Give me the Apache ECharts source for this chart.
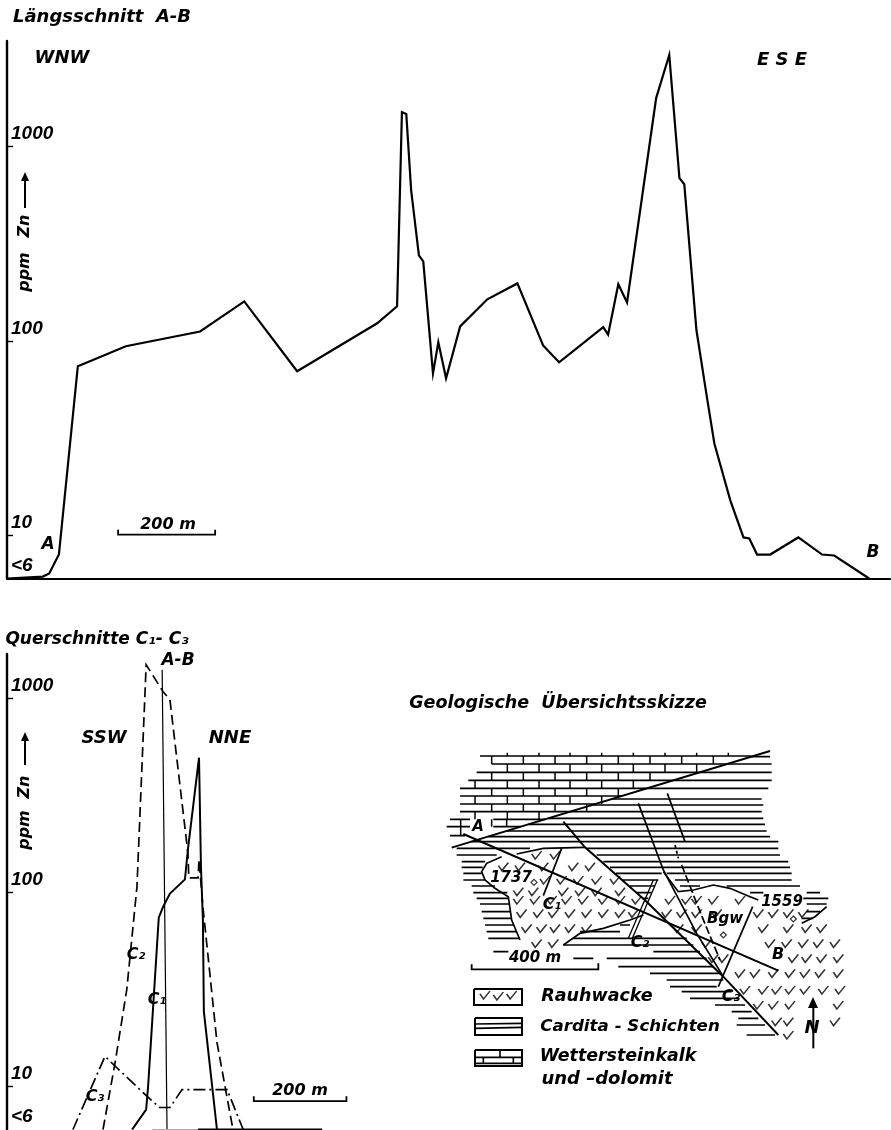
<!DOCTYPE html>
<html><head><meta charset="utf-8">
<style>html,body{margin:0;padding:0;background:#fff}#c{width:891px;height:1130px}</style>
<script src="https://cdn.jsdelivr.net/npm/echarts@6/dist/echarts.min.js"></script>
</head><body><div id="c"></div>
<script>
// --- Längsschnitt A-B (distance in m, Zn in ppm)
const longDist=[0,74,87,107,146,245,398,489,598,763,804,814,823,833,849,858,878,889,905,934,990,1052,1105,1138,1229,1239,1260,1278,1338,1365,1386,1396,1421,1443,1458,1491,1518,1530,1546,1573,1631,1680,1705,1777];
const longPpm=[6,6.14,6.37,7.97,74.2,94,112,160,69.9,123.5,151,1507,1473,597,276,257,68.2,98.5,64.3,119,164,198,95,77.8,118,108,196,158,1780,2964,689,641,114,50.7,29.7,15.1,9.76,9.64,7.97,7.97,9.76,7.97,7.88,6];
// --- Querschnitte (distance in m, Zn in ppm)
const c1Dist=[258,287,291,301,313,322,336,367,373,396,400,404,406,433];
const c1Ppm=[6,7.6,10,24.9,74.3,84.6,98.8,117,166,496,136,72.5,24.3,6];
const c2Dist=[198,223,247,268,287,322,336,373,375,394,396,404,433,466];
const c2Ppm=[6,13.3,31.6,107,1496,1086,988,161,119,119,148,84.6,16.9,6];
const c3Dist=[136,202,289,315,336,361,454,487];
const c3Ppm=[6,14.3,8.88,7.79,7.79,9.64,9.64,6];
const sectionDist=[320,330];
const sectionPpm=[1410,6];
const yTicks=[6,10,100,1000];
// --- Map geometry, in sketch units
const faultTop=[[65,383],[1020,93]];
const lineAB=[[100,342],[1045,752]];
const faultDiag=[[400,305],[465,382],[650,545],[880,770],[1045,945]];
const faultMid=[[625,250],[700,450],[800,640],[880,770]];
const faultDashA=[[712,220],[765,365]];
const faultDashB=[[735,375],[745,415]];
const faultDashC=[[755,435],[810,575],[870,720]];
const lineC1=[[395,385],[340,527]];
const lineC2=[[670,480],[595,655]];
const lineC2b=[[682,480],[607,655]];
const lineC3=[[968,560],[865,800]];
const edgeA=[[260,402],[340,385],[465,382]];
const edgeB=[[215,410],[170,430],[155,455],[165,480],[195,505],[235,530],[245,600],[270,660]];
const edgeC=[[400,675],[450,640],[520,625],[600,600],[640,585]];
const edgeD=[[700,455],[745,515],[790,510],[850,495],[900,505],[960,530],[985,540]];
const edgeE=[[1115,610],[1155,590],[1190,560]];
const scaleMap=[[125,733],[125,748],[505,748],[505,730]];
const northArrow=[[1150,850],[1150,985]];
// hatch rows: y, then x pairs
const carditaRows=[[110,964,1020],[132,892,1025],[157,809,1025],[181,730,1025],[205,651,1015],[237,545,995],[255,486,1000],[275,421,995],[295,355,1000],[313,295,1005],[333,230,1010],[350,175,1020],[365,124,1045],[385,80,300,470,1045],[405,80,200,500,1050],[425,95,165,520,1075],[442,95,158,540,1080],[460,100,155,558,695,710,1085],[480,100,165,578,685,735,1085],[498,125,195,600,675,750,810,890,1110],[518,130,232,618,665,960,1000,1130,1170],[535,140,235,640,655,1120,1195],[552,150,240,1130,1190],[575,155,240,1130,1170],[595,160,245,1115,1150],[615,165,250,570,600],[635,170,260,450,570],[655,175,270,430,770],[675,400,790],[695,190,235,670,810],[715,430,490,530,830],[740,565,850],[760,660,870],[780,710,880],[800,720,860],[815,755,905],[835,780,925],[855,855,945],[875,905,965],[895,925,985],[915,920,1005],[945,950,1035]];
const brickRows=[[108,150,964],[132,185,892],[157,140,809],[181,115,730],[205,90,651],[228,90,575],[252,90,496],[275,90,421],[298,60,120,190,345],[320,50,120,190,272],[347,60,105]];
// brick joints: y from, y to, x list
const brickJoints=[[98,108,232,327,420,515,610,705,800,895],[108,132,185,280,375,470,565,660,755,850],[132,157,232,327,420,515,610,705,800],[157,181,185,280,375,470,565,660],[181,205,135,232,327,420,515,610],[205,228,185,280,375,470,565],[228,252,135,232,327,420,515],[252,275,185,280,375,470],[275,298,135,232,327],[298,320,92,185,230],[320,347,92]];
// Rauhwacke ticks: y, then x list
const rauhRows=[[405,320,375],[440,220,270,340,430,480],[480,345,395,445,500,555],[515,265,310,400,450,500,570],[540,265,315,365,410,460,520,570,620,720,770,800,850,930],[580,275,325,370,420,470,520,570,610,710,755,800,860,985,1030,1075,1120],[625,290,335,375,420,470,745,800,1000,1075,1130,1175],[670,320,370,830,1020,1070,1120,1165,1215],[715,850,880,1090,1130,1175,1225],[760,930,975,1030,1080,1125,1170,1225],[810,945,1000,1040,1080,1125,1180,1230],[855,985,1030,1080,1225],[905,1040,1075,1215],[945,1075]];
// legend swatches
const legendBoxes=[[132,807,276,855],[135,894,276,945],[135,990,276,1038]];
const legendRauh=[[165,825],[205,828],[245,825]];
const legendCardita=[[135,925,276,922],[135,912,276,910]];
const legendBrick=[[135,1012,276,1012],[135,1030,276,1030],[210,990,210,1012],[160,1012,160,1030],[250,1012,250,1030]];
const spotMarks=[[312,487],[1090,597],[880,645]];

const FONT='"DejaVu Sans"';
const zip=(a,b)=>a.map((v,i)=>[v,b[i]]);
function rowsToSegs(rows){const out=[];rows.forEach(r=>{for(let i=1;i+1<r.length;i+=2){out.push([r[i],r[0]],[r[i+1],r[0]],[null,null]);}});return out;}
function jointsToSegs(rows){const out=[];rows.forEach(r=>{for(let i=2;i<r.length;i++){out.push([r[i],r[0]],[r[i],r[1]],[null,null]);}});return out;}
function boxesToSegs(b){const out=[];b.forEach(q=>{out.push([q[0],q[1]],[q[2],q[1]],[q[2],q[3]],[q[0],q[3]],[q[0],q[1]],[null,null]);});return out;}
function pairsToSegs(b){const out=[];b.forEach(q=>{out.push([q[0],q[1]],[q[2],q[3]],[null,null]);});return out;}
const rauhPts=[];rauhRows.forEach(r=>{for(let i=1;i<r.length;i++)rauhPts.push([r[i],r[0]]);});

function line(name,data,gi,w,type,color){return {name,type:'line',data,xAxisIndex:gi,yAxisIndex:gi,showSymbol:false,symbol:'none',silent:true,animation:false,clip:gi!==2?false:true,connectNulls:false,lineStyle:{color:color||'#000',width:w,type:type||'solid',cap:'butt',join:'miter'}};}
const yLabel={inside:true,margin:4,verticalAlign:'bottom',padding:[0,0,3,0],color:'#000',fontFamily:'"Liberation Sans"',fontStyle:'italic',fontWeight:'bold',fontSize:19,customValues:yTicks,showMinLabel:true,showMaxLabel:true,formatter:v=>{const n=Math.round(+v);return n<=6?'<6':String(n);}};
function yAx(gi,max){return {type:'log',logBase:10,gridIndex:gi,min:6,max,axisLine:{show:true,lineStyle:{color:'#000',width:2.4}},axisTick:{show:true,inside:true,length:6,customValues:[10,100,1000],lineStyle:{color:'#000',width:1.4}},axisLabel:yLabel,splitLine:{show:false}};}
function xAx(gi,max,show){return {type:'value',gridIndex:gi,min:0,max,axisLine:{show,onZero:false,lineStyle:{color:'#000',width:2.2}},axisTick:{show:false},axisLabel:{show:false},splitLine:{show:false}};}

const texts=[
 ['Längsschnitt  A-B',102,17,18],['WNW',62,58,18],['E S E',782,60,18],['A',48,545,17],['B',873,553,17],['200 m',168,525,16],
 ['Querschnitte C₁- C₃',97,640,17],['A-B',178,661,17],['SSW',104,738,18],['NNE',230,738,18],['C₂',136,955,16],['C₁',157,1000,16],['C₃',95,1097,16],['200 m',300,1091,16],
 ['Geologische  Übersichtsskizze',558,703,17.5],
 ['Rauhwacke',597,996,17.5],['Cardita - Schichten',630,1027,16.7],['Wettersteinkalk',618,1056,17.4],['und –dolomit',607,1079,18],
 ['A',478,827,15],['1737',511,878,15],['C₁',552,905,16],['C₂',640,943,16],['1559',782,902,15],['Bgw',725,919,15],['B',778,955,16],['C₃',731,997,16],['400 m',535,958,15],['N',812,1028,18]
];
const graphic=[];
texts.forEach(t=>graphic.push({type:'text',x:t[1],y:t[2],silent:true,style:{text:t[0],fill:'#000',align:'center',verticalAlign:'middle',font:'italic bold '+t[3]+'px '+FONT}}));
[['ppm',25,272],['Zn',25,226],['ppm',25,830],['Zn',25,787]].forEach(t=>graphic.push({type:'text',x:t[1],y:t[2],rotation:Math.PI/2,silent:true,style:{text:t[0],fill:'#000',align:'center',verticalAlign:'middle',font:'italic bold 16px '+FONT}}));
[[25,172,208],[25,732,765]].forEach(a=>{
 graphic.push({type:'line',silent:true,shape:{x1:a[0],y1:a[1]+6,x2:a[0],y2:a[2]},style:{stroke:'#000',lineWidth:2}});
 graphic.push({type:'polygon',silent:true,shape:{points:[[a[0],a[1]],[a[0]-4,a[1]+9],[a[0]+4,a[1]+9]]},style:{fill:'#000'}});
});
graphic.push({type:'polygon',silent:true,shape:{points:[[813,997],[808,1008],[818,1008]]},style:{fill:'#000'}});

const option={backgroundColor:'#fff',animation:false,graphic,
 grid:[{left:7,top:41,width:883,height:537.5},{left:7,top:654,width:353,height:475.5},{left:430,top:720,width:440,height:400}],
 xAxis:[xAx(0,1820,true),xAx(1,728,false),{type:'value',gridIndex:2,min:0,max:1320,show:false}],
 yAxis:[yAx(0,3500),yAx(1,1700),{type:'value',gridIndex:2,min:0,max:1200,inverse:true,show:false}],
 series:[
  line('Längsschnitt A-B',zip(longDist,longPpm),0,2.2),
  line('Scale top',[[229,10.7],[229,10.1],[429,10.1],[429,10.7]],0,1.8),
  line('C1',zip(c1Dist,c1Ppm),1,2),
  line('C2',zip(c2Dist,c2Ppm),1,1.7,[10,5]),
  line('C3',zip(c3Dist,c3Ppm),1,1.7,[12,4,2,4]),
  line('A-B',zip(sectionDist,sectionPpm),1,1.2),
  line('Baseline',[[394,6],[650,6]],1,2),
  line('Baseline faint',[[300,6],[394,6]],1,1,'solid','#aaa'),
  line('Scale bottom',[[509,8.9],[509,8.4],[700,8.4],[700,8.9]],1,1.8),
  line('Cardita',rowsToSegs(carditaRows),2,1.6),
  line('Bricks',rowsToSegs(brickRows),2,1.6),
  line('Brick joints',jointsToSegs(brickJoints),2,1.5),
  line('Fault top',faultTop,2,2),
  line('A-B map',lineAB,2,2),
  line('Fault diag',faultDiag,2,2),
  line('Fault mid',faultMid,2,1.7),
  line('Fault dash A',faultDashA,2,1.7),
  line('Fault dash B',faultDashB,2,1.7,[3,3]),
  line('Fault dash C',faultDashC,2,1.7,[8,3]),
  line('Line C1',lineC1,2,1.7),line('Line C2',lineC2,2,1.3),line('Line C2b',lineC2b,2,1.3),line('Line C3',lineC3,2,1.7),
  line('Edge A',edgeA,2,1.7),line('Edge B',edgeB,2,1.7),line('Edge C',edgeC,2,1.7),line('Edge D',edgeD,2,1.7),line('Edge E',edgeE,2,1.7),
  line('Scale map',scaleMap,2,1.8),line('North',northArrow,2,2),
  line('Legend boxes',boxesToSegs(legendBoxes),2,2),
  line('Legend cardita',pairsToSegs(legendCardita),2,1.6),
  line('Legend brick',pairsToSegs(legendBrick),2,1.6),
  {name:'Rauhwacke',type:'scatter',xAxisIndex:2,yAxisIndex:2,silent:true,animation:false,symbol:'path://M0 5 L6 14 L17 0',symbolSize:[10,8],data:rauhPts.concat(legendRauh),itemStyle:{color:'rgba(0,0,0,0)',borderColor:'#000',borderWidth:1.5}},
  {name:'Spots',type:'scatter',xAxisIndex:2,yAxisIndex:2,silent:true,animation:false,symbol:'diamond',symbolSize:6,data:spotMarks,itemStyle:{color:'#fff',borderColor:'#000',borderWidth:1.2}}
 ]};
const chart=echarts.init(document.getElementById('c'),null,{renderer:'canvas'});
chart.setOption(option);
</script></body></html>
